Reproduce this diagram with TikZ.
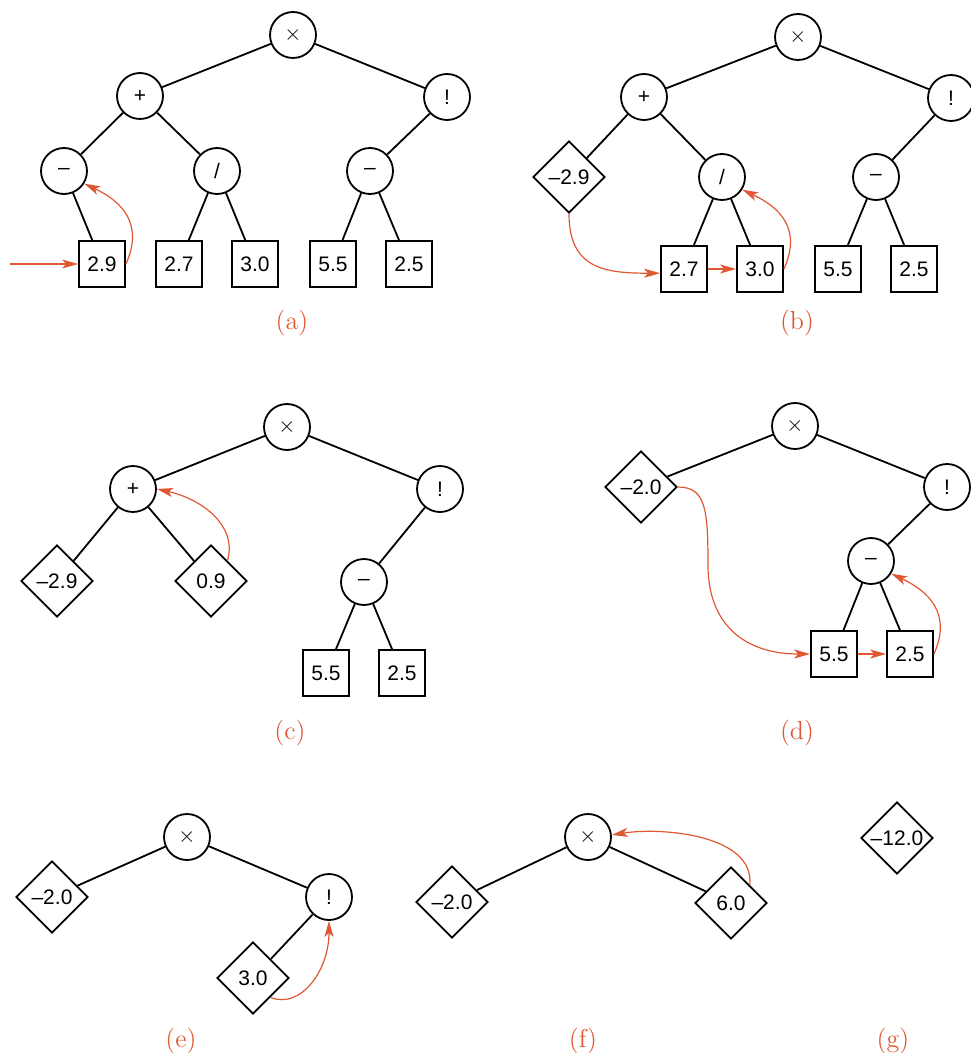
\documentclass[tikz,border=0pt]{standalone}
\usepackage{fontspec}
\setsansfont{Liberation Sans}
\usetikzlibrary{shapes.geometric, arrows.meta, positioning}
\definecolor{arancio}{RGB}{224,88,50}

\begin{document}
\begin{tikzpicture}[x=0.5pt, y=-0.5pt,
    op/.style={circle, draw, line width=0.9pt, minimum size=23pt, inner sep=0pt, font=\sffamily\fontsize{10.5}{12}\selectfont},
    num/.style={rectangle, draw, line width=0.9pt, minimum size=23pt, inner sep=0pt, font=\sffamily\fontsize{10.5}{12}\selectfont},
    val/.style={diamond, draw, line width=0.9pt, minimum size=36pt, inner sep=0pt, font=\sffamily\fontsize{10.5}{12}\selectfont},
    ramo/.style={line width=0.9pt},
    freccia/.style={arancio, line width=0.6pt, -{Stealth[length=8pt,width=4.5pt,inset=2pt]}},
    didascalia/.style={text=arancio, font=\fontsize{13}{15}\selectfont}]
        \useasboundingbox (0,0) rectangle (970,1053);
        %albero (a)
        \node[op] (aX) at (293,35) {$\times$};
        \node[op] (aP) at (140,96) {+};
        \node[op] (aE) at (447,97) {!};
        \node[op] (aM1) at (64,171) {–};
        \node[op] (aD) at (217,171) {/};
        \node[op] (aM2) at (370,171) {–};
        \node[num] (a29) at (102,264) {2.9};
        \node[num] (a27) at (179,264) {2.7};
        \node[num] (a30) at (255,264) {3.0};
        \node[num] (a55) at (333,264) {5.5};
        \node[num] (a25) at (409,264) {2.5};
        \foreach \p/\f in {aX/aP, aX/aE, aP/aM1, aP/aD, aE/aM2, aM1/a29, aD/a27, aD/a30, aM2/a55, aM2/a25}
            \draw[ramo] (\p) -- (\f);
        \coordinate (a0) at (10,264);
        \draw[freccia] (a0) -- (a29.west);
        \draw[freccia] (a29.east) .. controls +(18,-40) and +(38,18) .. (aM1.-32);
        \node[didascalia] (capa) at (292,323) {(a)};
        %albero (b)
        \node[op] (bX) at (798,37) {$\times$};
        \node[op] (bP) at (644,97) {+};
        \node[op] (bE) at (951,98) {!};
        \node[val] (bV) at (569,177) {–2.9};
        \node[op] (bD) at (722,177) {/};
        \node[op] (bM) at (876,177) {–};
        \node[num] (b27) at (684,269) {2.7};
        \node[num] (b30) at (760,269) {3.0};
        \node[num] (b55) at (838,269) {5.5};
        \node[num] (b25) at (914,269) {2.5};
        \foreach \p/\f in {bX/bP, bX/bE, bP/bV, bP/bD, bE/bM, bD/b27, bD/b30, bM/b55, bM/b25}
            \draw[ramo] (\p) -- (\f);
        \draw[freccia] (bV.south) .. controls +(0,55) and +(-55,0) .. (b27.-170);
        \draw[freccia] (b27) -- (b30);
        \draw[freccia] (b30.east) .. controls +(18,-40) and +(38,18) .. (bD.-32);
        \node[didascalia] (capb) at (797,323) {(b)};
        %albero (c)
        \node[op] (cX) at (287,427) {$\times$};
        \node[op] (cP) at (133,489) {+};
        \node[op] (cE) at (440,489) {!};
        \node[val] (cV1) at (57,581) {–2.9};
        \node[val] (cV2) at (211,581) {0.9};
        \node[op] (cM) at (364,582) {–};
        \node[num] (c55) at (326,673) {5.5};
        \node[num] (c25) at (402,673) {2.5};
        \foreach \p/\f in {cX/cP, cX/cE, cP/cV1, cP/cV2, cE/cM, cM/c55, cM/c25}
            \draw[ramo] (\p) -- (\f);
        \draw[freccia] (cV2.51) .. controls +(10,-35) and +(45,10) .. (cP.east);
        \node[didascalia] (capc) at (290,733) {(c)};
        %albero (d)
        \node[op] (dX) at (795,426) {$\times$};
        \node[val] (dV) at (641,487) {–2.0};
        \node[op] (dE) at (947,487) {!};
        \node[op] (dM) at (871,561) {–};
        \node[num] (d55) at (834,654) {5.5};
        \node[num] (d25) at (910,654) {2.5};
        \foreach \p/\f in {dX/dV, dX/dE, dE/dM, dM/d55, dM/d25}
            \draw[ramo] (\p) -- (\f);
        \coordinate (dK) at (708,565);
        \draw[freccia] (dV.east) .. controls +(28,0) and +(0,-55) .. (dK)
            .. controls +(0,60) and +(-65,0) .. (d55.west);
        \draw[freccia] (d55) -- (d25);
        \draw[freccia] (d25.east) .. controls +(18,-40) and +(38,18) .. (dM.-32);
        \node[didascalia] (capd) at (797,733) {(d)};
        %albero (e)
        \node[op] (eX) at (187,837) {$\times$};
        \node[val] (eV1) at (52,897) {–2.0};
        \node[op] (eE) at (329,897) {!};
        \node[val] (eV2) at (253,978) {3.0};
        \foreach \p/\f in {eX/eV1, eX/eE, eE/eV2}
            \draw[ramo] (\p) -- (\f);
        \draw[freccia] (eV2.-48) .. controls +(30,12) and +(0,50) .. (eE.south);
        \node[didascalia] (cape) at (181,1041) {(e)};
        %albero (f)
        \node[op] (fX) at (588,837) {$\times$};
        \node[val] (fV1) at (452,902) {–2.0};
        \node[val] (fV2) at (731,903) {6.0};
        \foreach \p/\f in {fX/fV1, fX/fV2}
            \draw[ramo] (\p) -- (\f);
        \draw[freccia] (fV2.44) .. controls +(5,-50) and +(50,-8) .. (fX.5);
        \node[didascalia] (capf) at (583,1041) {(f)};
        %albero (g)
        \node[val] (gV) at (897,838) {–12.0};
        \node[didascalia] (capg) at (893,1041) {(g)};
\end{tikzpicture}
\end{document}
